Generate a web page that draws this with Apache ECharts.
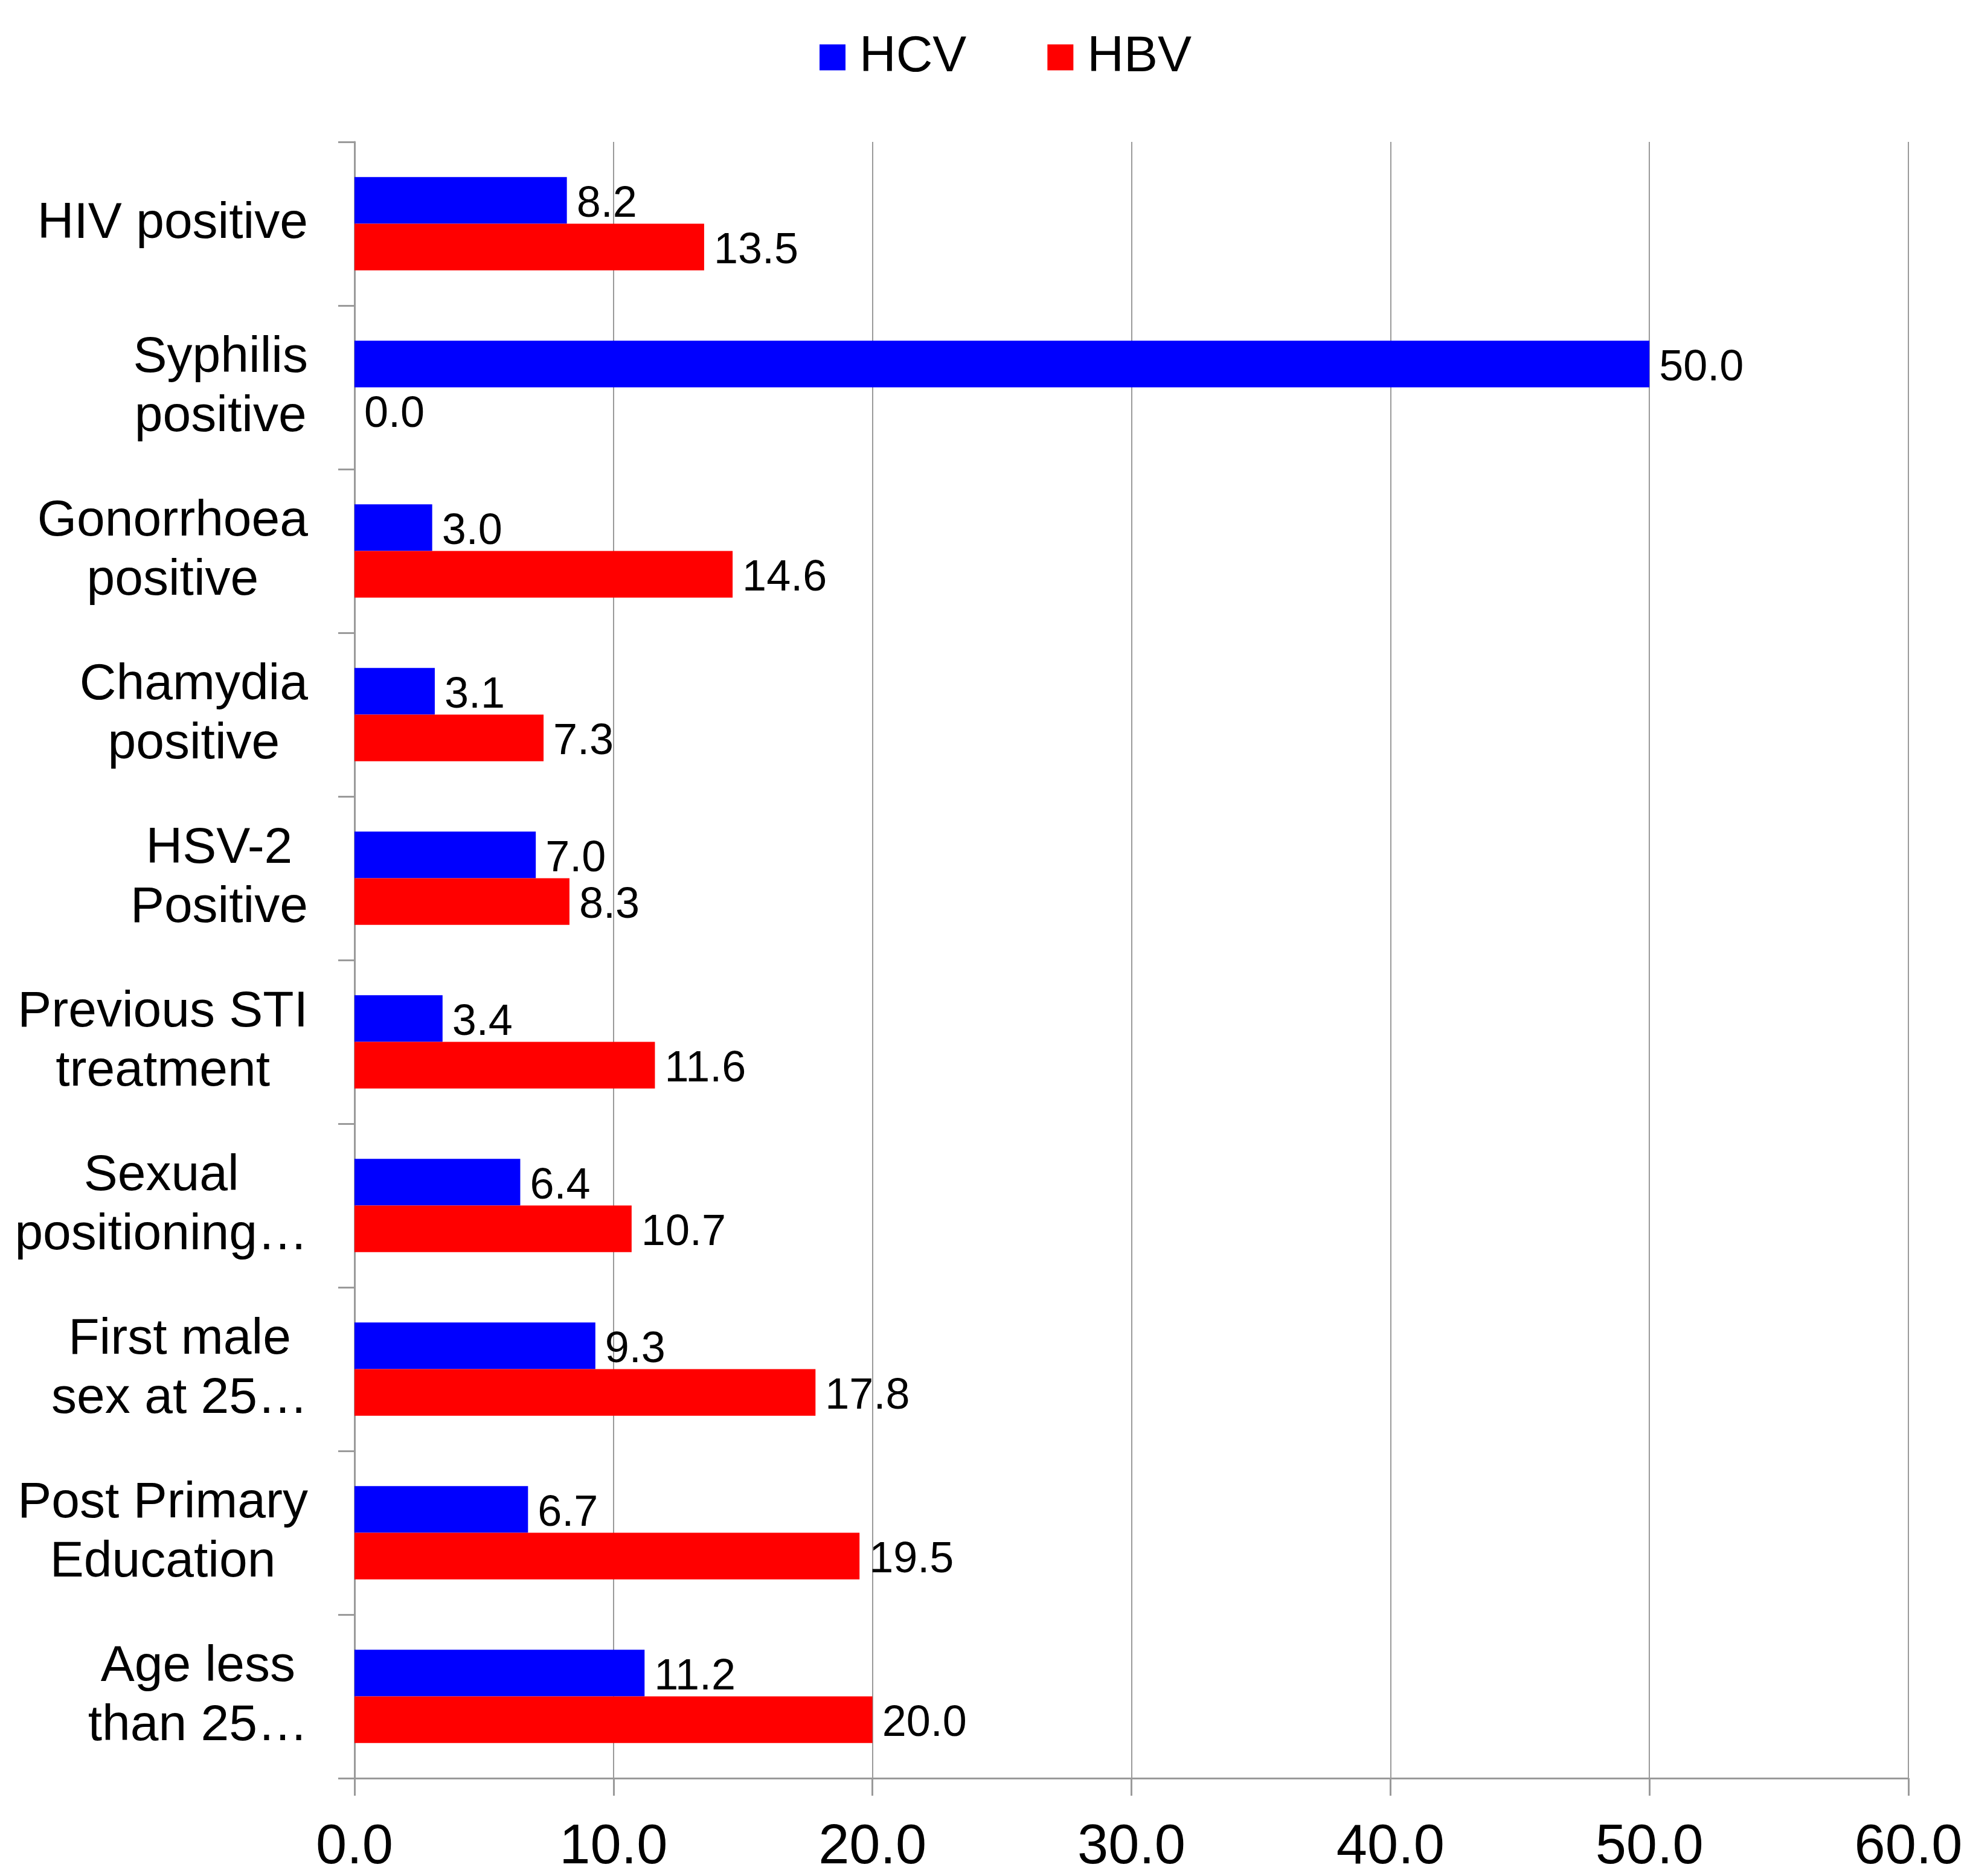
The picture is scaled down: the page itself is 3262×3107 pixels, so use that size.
<!DOCTYPE html>
<html>
<head>
<meta charset="utf-8">
<script src="https://cdn.jsdelivr.net/npm/echarts@6/dist/echarts.min.js"></script>
<style>
  html, body { margin: 0; padding: 0; background: #fff; }
  #main { width: 3262px; height: 3107px; }
</style>
</head>
<body>
<div id="main"></div>
<script>
// categories, top to bottom
const categories = [
  'HIV positive',
  'Syphilis\npositive',
  'Gonorrhoea\npositive',
  'Chamydia\npositive',
  'HSV-2\nPositive',
  'Previous STI\ntreatment',
  'Sexual\npositioning\u2026',
  'First male\nsex at 25\u2026',
  'Post Primary\nEducation',
  'Age less\nthan 25\u2026'
];
const hcvValues = [8.2, 50.0, 3.0, 3.1, 7.0, 3.4, 6.4, 9.3, 6.7, 11.2];
const hbvValues = [13.5, 0.0, 14.6, 7.3, 8.3, 11.6, 10.7, 17.8, 19.5, 20.0];
const xTicks = { min: 0, max: 60, interval: 10 };

const FONT = '"Liberation Sans", Arial, sans-serif';
const GRAY = '#9a9a9a';

let myChart = echarts.init(document.getElementById('main'));

const barLabel = {
  show: true,
  position: 'right',
  distance: 16,
  offset: [0, 7],
  color: '#000',
  fontFamily: FONT,
  fontSize: 72,
  formatter: p => p.value.toFixed(1)
};

myChart.setOption({
  animation: false,
  backgroundColor: '#fff',
  legend: {
    top: 48,
    left: 1352,
    itemWidth: 43,
    itemHeight: 43,
    itemGap: 134,
    icon: 'rect',
    textStyle: {
      fontFamily: FONT,
      fontSize: 84,
      color: '#000',
      padding: [0, 0, 0, 18]
    },
    data: ['HCV', 'HBV']
  },
  grid: {
    left: 587,
    right: 102,
    top: 235,
    bottom: 152,
    containLabel: false
  },
  xAxis: {
    type: 'value',
    min: xTicks.min,
    max: xTicks.max,
    interval: xTicks.interval,
    axisLine: { show: true, lineStyle: { color: GRAY, width: 3 } },
    axisTick: { show: true, length: 29, lineStyle: { color: GRAY, width: 3 } },
    splitLine: { show: true, lineStyle: { color: GRAY, width: 2 } },
    axisLabel: {
      margin: 70,
      color: '#000',
      fontFamily: FONT,
      fontSize: 92,
      formatter: v => v.toFixed(1)
    }
  },
  yAxis: {
    type: 'category',
    inverse: true,
    data: categories,
    axisLine: { show: true, lineStyle: { color: GRAY, width: 3 } },
    axisTick: { show: true, length: 27, lineStyle: { color: GRAY, width: 3 } },
    splitLine: { show: false },
    axisLabel: {
      margin: 77,
      align: 'right',
      color: '#000',
      fontFamily: FONT,
      fontSize: 84,
      lineHeight: 98,
      formatter: v => v.split('\n').map(s => '{c|' + s + '}').join('\n'),
      rich: {
        c: { align: 'center', fontFamily: FONT, fontSize: 84, lineHeight: 98, color: '#000' }
      }
    }
  },
  series: [
    {
      name: 'HCV',
      type: 'bar',
      data: hcvValues,
      itemStyle: { color: '#0000ff' },
      barGap: '0%',
      barCategoryGap: '43%',
      label: barLabel
    },
    {
      name: 'HBV',
      type: 'bar',
      data: hbvValues,
      itemStyle: { color: '#ff0000' },
      barGap: '0%',
      barCategoryGap: '43%',
      label: barLabel
    }
  ]
});
</script>
</body>
</html>
